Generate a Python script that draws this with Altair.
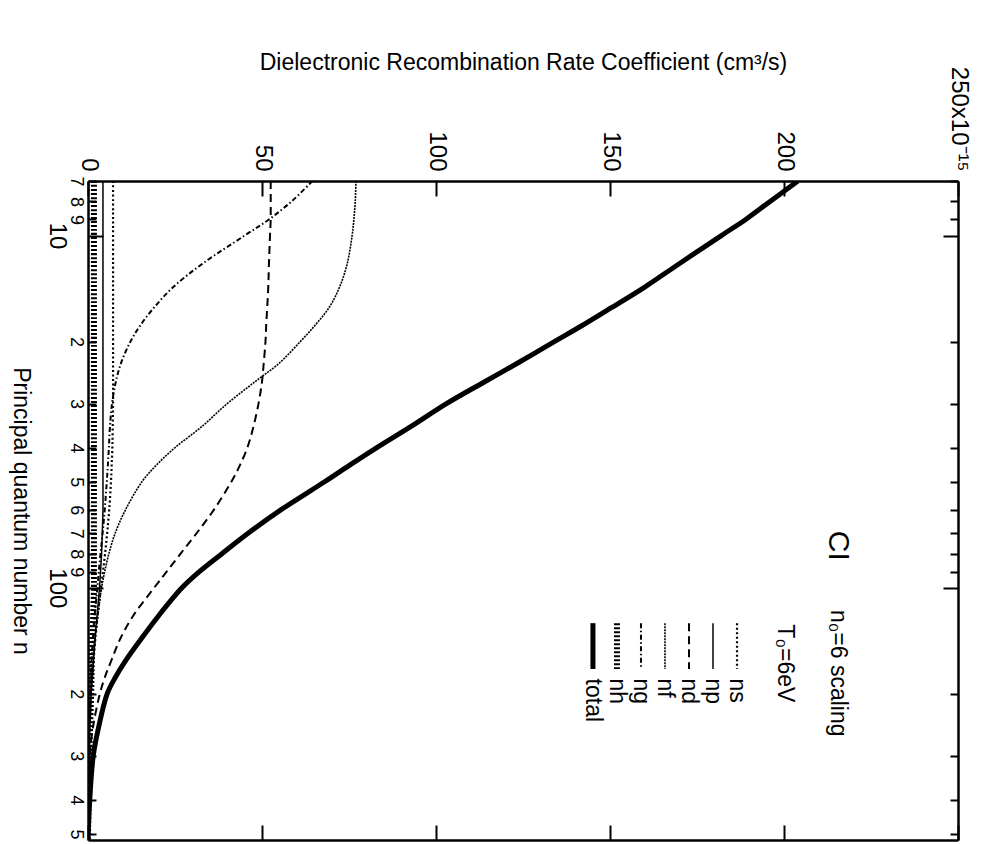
import altair as alt
import pandas as pd

# ---------------- data ----------------
n_values = [7, 8, 9, 10, 12, 14, 16, 18, 20, 23, 26, 30, 35, 40, 45, 50,
            60, 70, 80, 90, 100, 120, 140, 160, 180, 200, 250, 300, 400, 520]

ns = [7.2, 7.2, 7.2, 7.2, 7.2, 7.2, 7.2, 7.2, 7.2, 7.2, 7.2, 7.2, 7.1, 7.0, 6.8, 6.6,
      6.1, 5.5, 4.9, 4.3, 3.7, 2.8, 2.1, 1.6, 1.2, 0.9, 0.5, 0.3, 0.1, 0.0]
np_series = [4.3, 4.3, 4.3, 4.3, 4.3, 4.3, 4.3, 4.3, 4.3, 4.3, 4.3, 4.3, 4.3, 4.3, 4.3, 4.3,
             4.3, 4.1, 3.9, 3.6, 3.3, 2.6, 2.0, 1.6, 1.2, 0.9, 0.5, 0.3, 0.1, 0.0]
nd = [52.5, 52.5, 52.5, 52.3, 52.0, 51.8, 51.5, 51.2, 51.0, 50.5, 50.0, 49.0, 47.5, 45.8, 43.6, 41.2,
      36.2, 31.2, 26.6, 22.6, 19.0, 13.0, 9.2, 6.8, 4.8, 3.4, 1.4, 0.5, 0.1, 0.0]
nf = [77.0, 76.8, 76.4, 75.9, 74.5, 72.3, 69.3, 65.2, 61.0, 55.0, 48.0, 40.0, 32.5, 25.0, 19.5, 15.5,
      10.8, 7.8, 6.0, 4.8, 3.9, 2.8, 2.0, 1.5, 1.1, 0.85, 0.5, 0.3, 0.1, 0.0]
ng = [64.5, 58.5, 52.0, 45.0, 33.0, 24.5, 19.0, 15.0, 12.2, 9.5, 8.0, 6.9, 6.3, 6.0, 5.7, 5.4,
      4.8, 4.2, 3.6, 3.1, 2.7, 1.9, 1.4, 1.0, 0.8, 0.6, 0.3, 0.2, 0.1, 0.0]
nh = [1.7, 1.7, 1.7, 1.7, 1.7, 1.7, 1.7, 1.7, 1.7, 1.7, 1.7, 1.7, 1.7, 1.7, 1.7, 1.7,
      1.7, 1.7, 1.7, 1.7, 1.7, 1.5, 1.3, 1.1, 1.0, 0.9, 0.6, 0.4, 0.15, 0.0]
total = [204, 196, 189, 182, 170, 160, 150.5, 142, 134, 123.5, 114, 103, 92.5, 83, 75, 68,
         55.5, 46, 38.5, 32, 27, 20.3, 15.2, 11.0, 7.8, 5.5, 3.0, 1.5, 0.5, 0.0]

series_names = ["ns", "np", "nd", "nf", "ng", "nh", "total"]
series_values = [ns, np_series, nd, nf, ng, nh, total]

rate_ticks = [0, 50, 100, 150, 200, 250]
n_ticks = [7, 8, 9, 10, 20, 30, 40, 50, 60, 70, 80, 90, 100, 200, 300, 400, 500]

# legend (drawn rotated, like the figure) : positions in data units
legend_rates = [186.5, 179.6, 172.7, 165.8, 158.9, 152.0, 145.1]
legend_n_start = 126
legend_n_end = 170
legend_label_n = 181

annot_text = ["CI", "n\u2080=6 scaling", "T\u2080=6eV"]
annot_rate = [215.5, 215.5, 200.3]
annot_n = [76, 115.6, 127]

# ---------------- styles ----------------
FONT = "Liberation Sans"
MAJOR = "(datum.value == 10 || datum.value == 100)"
styles = {
    "ns": dict(strokeWidth=2.2, strokeDash=[2, 2.5]),
    "np": dict(strokeWidth=1.5),
    "nd": dict(strokeWidth=2.0, strokeDash=[8, 5]),
    "nf": dict(strokeWidth=1.6, strokeDash=[2, 1]),
    "ng": dict(strokeWidth=2.0, strokeDash=[5, 2.5, 1.5, 2.5]),
    "nh": dict(strokeWidth=6.0, strokeDash=[2, 2]),
    "total": dict(strokeWidth=5.0),
}

rows = []
for i, (name, vals) in enumerate(zip(series_names, series_values)):
    for n, v in zip(n_values, vals):
        rows.append({"series": name, "grp": "curve", "n": n, "rate": v})
    rows.append({"series": name, "grp": "legend", "n": legend_n_start, "rate": legend_rates[i]})
    rows.append({"series": name, "grp": "legend", "n": legend_n_end, "rate": legend_rates[i]})
df = pd.DataFrame(rows)

legend_df = pd.DataFrame({"label": series_names, "rate": legend_rates,
                          "n": [legend_label_n] * len(series_names)})
annot_df = pd.DataFrame({"label": annot_text, "rate": annot_rate, "n": annot_n})

x_scale = alt.Scale(domain=[0, 250], nice=False, zero=False)
y_scale = alt.Scale(type="log", domain=[7, 520], nice=False, reverse=True)

common = dict(domainColor="black", domainWidth=2.5, tickColor="black", tickWidth=2,
              grid=False, labelColor="black", titleColor="black")

x_axis = alt.Axis(
    orient="top", values=rate_ticks,
    title="Dielectronic Recombination Rate Coefficient (cm\u00b3/s)",
    titleFont=FONT, titleFontSize=23, titleFontWeight="normal",
    titleX=435, titleY=-119, titleAlign="center", titleBaseline="middle", titleAngle=0,
    labelExpr="datum.value == 250 ? '250x10\u207b\u00b9\u2075' : format(datum.value, 'd')",
    labelAngle=90, labelAlign="right", labelBaseline="middle",
    labelFont=FONT, labelFontSize=24, labelPadding=25,
    labelFlush=False, labelOverlap=False,
    tickSize={"expr": "-15"}, **common)

y_axis = alt.Axis(
    orient="left", values=n_ticks,
    title="Principal quantum number n",
    titleFont=FONT, titleFontSize=23, titleFontWeight="normal",
    titleX=-68, titleY=329.5, titleAlign="center", titleBaseline="middle", titleAngle=90,
    labelExpr=MAJOR + " ? format(datum.value, 'd') : substring(format(datum.value, 'd'), 0, 1)",
    labelAngle=90, labelAlign="center", labelBaseline="top",
    labelFont=FONT, labelFontSize={"expr": MAJOR + " ? 24 : 18"},
    labelPadding={"expr": MAJOR + " ? 35 : 12"},
    labelFlush=False, labelOverlap=False,
    tickSize={"expr": MAJOR + " ? -15 : -8"}, **common)

x_axis_bottom = alt.Axis(orient="bottom", values=rate_ticks, labels=False, title=None,
                         tickSize={"expr": "-15"}, **common)
y_axis_right = alt.Axis(orient="right", values=n_ticks, labels=False, title=None,
                        tickSize={"expr": MAJOR + " ? -15 : -8"}, **common)

X = alt.X("rate:Q", scale=x_scale, axis=x_axis)
Y = alt.Y("n:Q", scale=y_scale, axis=y_axis)

layers = []
for name in series_names:
    layers.append(
        alt.Chart(df).transform_filter(alt.datum.series == name)
        .mark_line(color="black", strokeCap="butt", clip=True,
                   interpolate="catmull-rom", **styles[name])
        .encode(x=X, y=Y, detail="grp:N", order="n:Q")
    )

legend_text = alt.Chart(legend_df).mark_text(
    angle=90, align="left", baseline="middle", font=FONT, fontSize=23, color="black"
).encode(x=X, y=Y, text="label:N")

ci_text = alt.Chart(annot_df.iloc[[0]]).mark_text(
    angle=90, align="center", baseline="middle", font=FONT, fontSize=30, color="black"
).encode(x=X, y=Y, text="label:N")

other_text = alt.Chart(annot_df.iloc[1:]).mark_text(
    angle=90, align="left", baseline="middle", font=FONT, fontSize=23, color="black"
).encode(x=X, y=Y, text="label:N")

inner = alt.layer(*layers, legend_text, ci_text, other_text)

mirror = alt.Chart(df[df.series == "total"]).mark_point(opacity=0).encode(
    x=alt.X("rate:Q", scale=x_scale, axis=x_axis_bottom),
    y=alt.Y("n:Q", scale=y_scale, axis=y_axis_right),
)

chart = (
    alt.layer(inner, mirror)
    .resolve_axis(x="independent", y="independent")
    .properties(
        width=870, height=659,
        padding={"left": 80, "top": 173, "right": 24, "bottom": 4},
        autosize=alt.AutoSizeParams(type="none"),
        background="white",
    )
    .configure_view(stroke=None)
)

chart.save("out.html", embed_options={"renderer": "svg", "actions": False})
